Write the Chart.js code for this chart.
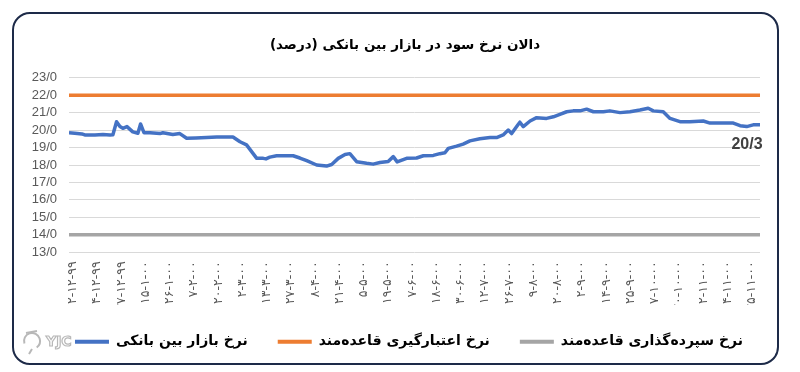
<!DOCTYPE html>
<html><head><meta charset="utf-8">
<script src="https://cdn.jsdelivr.net/npm/chart.js@4"></script>
<style>
html,body{margin:0;padding:0;background:#fff;}
#wrap{position:relative;width:800px;height:372px;overflow:hidden;}
#frame{position:absolute;left:12px;top:12px;width:767px;height:353px;box-sizing:border-box;border:2.5px solid #1d2a48;border-radius:18px;pointer-events:none;}
canvas{position:absolute;left:0;top:0;}
</style></head><body>
<div id="wrap"><canvas id="c" width="800" height="372"></canvas><div id="frame"></div></div>
<script>
const titleText = 'دالان نرخ سود در بازار بین بانکی (درصد)\u200F';
const tickLabels = ['۲-۱۲-۹۹','۱۴-۱۲-۹۹','۲۷-۱۲-۹۹','۱۵-۱-۰۰','۲۶-۱-۰۰','۷-۲-۰۰','۲۰-۲-۰۰','۲-۳-۰۰','۱۳-۳-۰۰','۲۷-۳-۰۰','۸-۴-۰۰','۲۱-۴-۰۰','۵-۵-۰۰','۱۹-۵-۰۰','۷-۶-۰۰','۱۸-۶-۰۰','۳۰-۶-۰۰','۱۲-۷-۰۰','۲۶-۷-۰۰','۹-۸-۰۰','۲۰-۸-۰۰','۲-۹-۰۰','۱۴-۹-۰۰','۲۵-۹-۰۰','۷-۱۰-۰۰','۲۰-۱۰-۰۰','۰۲-۱۱-۰۰','۱۴-۱۱-۰۰','۲۵-۱۱-۰۰'];
const seriesNames = ['نرخ بازار بین بانکی','نرخ اعتبارگیری قاعده‌مند','نرخ سپرده‌گذاری قاعده‌مند'];
// positions of observations, in units of the tick-label spacing
const interbankX = [-0.16,0.08,0.37,0.49,0.91,1.24,1.53,1.65,1.80,1.94,2.06,2.23,2.47,2.68,2.79,2.93,3.18,3.59,3.71,4.12,4.41,4.69,5.07,5.51,5.93,6.27,6.60,6.89,7.16,7.58,7.85,7.96,8.12,8.40,9.08,9.36,9.64,10.05,10.46,10.67,10.94,11.22,11.42,11.70,12.11,12.38,12.66,13.00,13.21,13.37,13.76,14.17,14.45,14.86,15.13,15.34,15.48,15.82,16.09,16.37,16.78,17.20,17.47,17.74,17.95,18.09,18.35,18.43,18.57,18.85,19.12,19.53,19.81,20.08,20.36,20.63,20.91,21.18,21.46,21.87,22.14,22.56,22.97,23.38,23.72,23.93,24.34,24.62,25.03,25.44,25.99,26.27,26.68,27.23,27.51,27.78,28.05,28.33];
const interbankRate = [19.85,19.82,19.78,19.72,19.72,19.75,19.72,19.73,20.48,20.2,20.1,20.2,19.9,19.82,20.35,19.85,19.85,19.8,19.85,19.75,19.8,19.53,19.55,19.57,19.6,19.6,19.6,19.33,19.15,18.38,18.38,18.35,18.45,18.53,18.53,18.4,18.25,18.0,17.94,18.03,18.38,18.6,18.65,18.19,18.1,18.05,18.14,18.2,18.48,18.18,18.38,18.4,18.53,18.55,18.65,18.7,18.95,19.08,19.2,19.38,19.5,19.57,19.57,19.72,20.0,19.8,20.3,20.45,20.2,20.52,20.71,20.67,20.76,20.9,21.05,21.1,21.1,21.2,21.05,21.05,21.1,21.0,21.05,21.15,21.25,21.1,21.05,20.67,20.48,20.48,20.52,20.4,20.4,20.4,20.25,20.2,20.3,20.3];
const lendingRate = 22;
const depositRate = 14;
const yTicks = [13,14,15,16,17,18,19,20,21,22,23];

const colors = {blue:'#4472C4', orange:'#ED7D31', gray:'#A5A5A5', grid:'#D9D9D9', tick:'#595959'};
const xStart = interbankX[0], xEnd = interbankX[interbankX.length-1];
const faFont = "'DejaVu Sans', sans-serif";
const fmt = v => Number(v).toFixed(1).replace('.', '/');

// shift title and legend boxes to the right, as in the original layout
const shiftBoxes = {
  id:'shiftBoxes',
  afterLayout(chart){
    if (chart.legend){ chart.legend.left += 29; chart.legend.right += 29; }
    if (chart.titleBlock){ chart.titleBlock.left += 25; chart.titleBlock.right += 25; }
  }
};
const lastLabel = {
  id:'lastLabel',
  afterDatasetsDraw(chart){
    const meta = chart.getDatasetMeta(0);
    const pt = meta.data[meta.data.length-1];
    const ctx = chart.ctx;
    ctx.save();
    ctx.font = "bold 16px 'Liberation Sans', sans-serif";
    ctx.fillStyle = '#404040';
    ctx.textAlign = 'center';
    ctx.textBaseline = 'middle';
    ctx.fillText(fmt(interbankRate[interbankRate.length-1]), pt.x - 13, pt.y + 20);
    ctx.restore();
  }
};
const logo = {
  id:'logo',
  afterDraw(chart){
    const ctx = chart.ctx;
    ctx.save();
    ctx.strokeStyle = '#b8b8b8';
    ctx.lineWidth = 1.2;
    ctx.font = "bold 14px 'DejaVu Sans', sans-serif";
    ctx.textBaseline = 'middle';
    ctx.strokeText('YJC', 46, 342);
    ctx.lineWidth = 2;
    ctx.beginPath();
    ctx.arc(32, 341, 8, Math.PI*0.9, Math.PI*2.3);
    ctx.stroke();
    ctx.beginPath();
    ctx.moveTo(26, 333); ctx.lineTo(37, 331);
    ctx.moveTo(32, 349); ctx.lineTo(29, 354);
    ctx.stroke();
    ctx.restore();
  }
};

const legendPad = 30;
new Chart(document.getElementById('c'), {
  type:'line',
  data:{
    datasets:[
      {label:seriesNames[0], data:interbankX.map((x,i)=>({x, y:interbankRate[i]})), borderColor:colors.blue, backgroundColor:colors.blue, borderWidth:3.5, pointRadius:0, tension:0, borderJoinStyle:'round'},
      {label:seriesNames[1], data:[{x:xStart,y:lendingRate},{x:xEnd,y:lendingRate}], borderColor:colors.orange, backgroundColor:colors.orange, borderWidth:3.5, pointRadius:0},
      {label:seriesNames[2], data:[{x:xStart,y:depositRate},{x:xEnd,y:depositRate}], borderColor:colors.gray, backgroundColor:colors.gray, borderWidth:3.5, pointRadius:0}
    ]
  },
  options:{
    responsive:false, animation:false, devicePixelRatio:1,
    layout:{padding:{top:3.5, left:0, right:40, bottom:13.3}},
    plugins:{
      title:{display:true, text:titleText, color:'#000', font:{family:faFont, size:13.5, weight:'bold'}, padding:{top:34, bottom:24}},
      legend:{display:true, position:'bottom',
        labels:{boxWidth:34, boxHeight:4, padding:legendPad, color:'#000', font:{family:faFont, size:14, weight:'bold'},
          generateLabels(chart){
            const items = Chart.defaults.plugins.legend.labels.generateLabels(chart);
            items.forEach(it=>{ it.lineWidth = 0; it.fillStyle = it.strokeStyle; });
            return items;
          }}},
      tooltip:{enabled:false}
    },
    scales:{
      x:{type:'linear', min:xStart, max:xEnd,
        grid:{display:false, drawTicks:false}, border:{display:false},
        afterBuildTicks(s){ s.ticks = tickLabels.map((_,i)=>({value:i})); },
        afterFit(s){ s.height = 82.4 - legendPad; },
        ticks:{autoSkip:false, minRotation:90, maxRotation:90, padding:9, color:colors.tick, font:{family:faFont, size:12.5},
          callback:(v)=> tickLabels[Math.round(v)] ?? ''}
      },
      y:{min:13, max:23,
        afterBuildTicks(s){ s.ticks = yTicks.map(v=>({value:v})); },
        afterFit(s){ s.width = 69; },
        grid:{color:colors.grid, lineWidth:1, drawTicks:false}, border:{display:false},
        ticks:{autoSkip:false, padding:12, color:colors.tick, font:{family:"'Liberation Sans', sans-serif", size:13}, callback:fmt}
      }
    }
  },
  plugins:[shiftBoxes, lastLabel, logo]
});
</script>
</body></html>
